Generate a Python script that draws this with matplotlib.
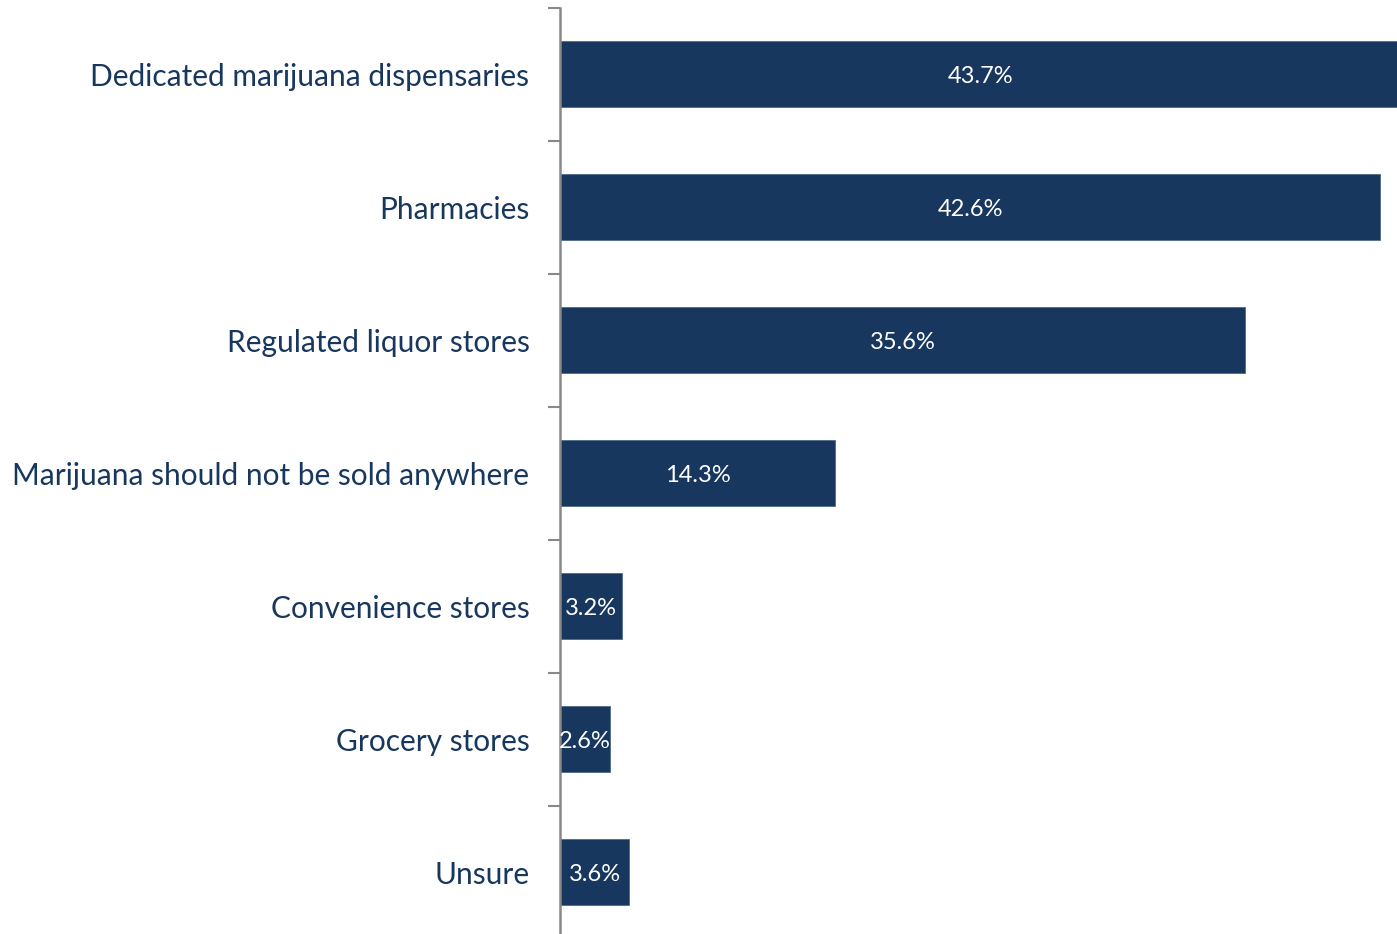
import matplotlib.pyplot as plt
from matplotlib.ticker import FixedLocator

categories = [
    "Dedicated marijuana dispensaries",
    "Pharmacies",
    "Regulated liquor stores",
    "Marijuana should not be sold anywhere",
    "Convenience stores",
    "Grocery stores",
    "Unsure",
]
values = [43.7, 42.6, 35.6, 14.3, 3.2, 2.6, 3.6]

NAVY = "#17375e"
plt.rcParams["font.family"] = ["Lato", "DejaVu Sans"]

W, H = 1397, 934
fig = plt.figure(figsize=(W / 100, H / 100), dpi=100)
# axis from x=560 px to right edge; categories span y=7.5 .. 938.5 px
ax = fig.add_axes([560 / W, (H - 938.5) / H, 1 - 560 / W, 931 / H])

y = list(range(len(categories)))
ax.barh(y, values, height=0.5, color=NAVY, edgecolor="#4f6a8c", linewidth=0.6)
for yi, v in zip(y, values):
    ax.text(v / 2, yi + 0.022, f"{v:.1f}%", ha="center", va="center",
            color="white", fontsize=17)

ax.set_xlim(0, 837 / 19.25)
ax.set_ylim(len(categories) - 0.5, -0.5)
ax.set_yticks(y)
ax.set_yticklabels(categories, fontsize=21.5, color=NAVY)
ax.yaxis.set_minor_locator(FixedLocator([i - 0.5 for i in range(len(categories) + 1)]))
ax.tick_params(axis="y", which="major", length=0, pad=22)
ax.tick_params(axis="y", which="minor", length=9, width=1.5, color="#888888")
ax.set_xticks([])
for s in ["top", "right", "bottom"]:
    ax.spines[s].set_visible(False)
ax.spines["left"].set_color("#888888")
ax.spines["left"].set_linewidth(1.8)

fig.savefig("out.png", dpi=100)
